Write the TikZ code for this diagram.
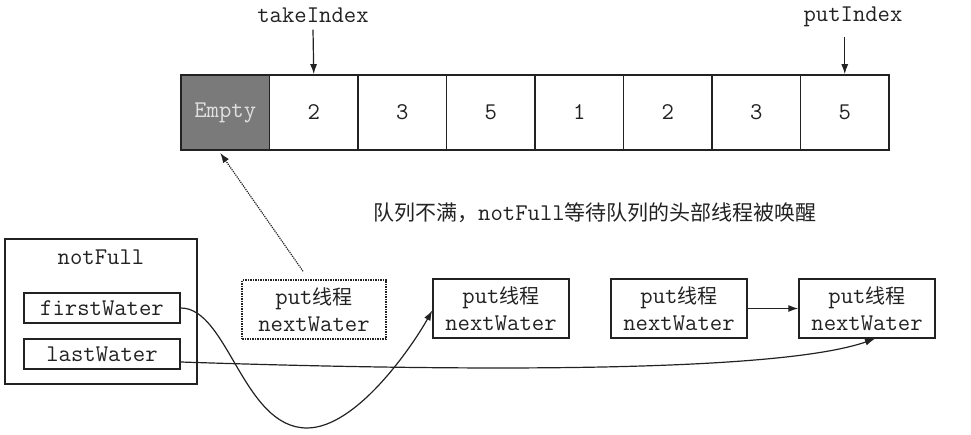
\documentclass[tikz,border=0pt]{standalone}
\usepackage{fontspec}
\newfontfamily\cjk{Noto Sans CJK SC}
\usetikzlibrary{arrows.meta,calc}
\definecolor{emptyfill}{HTML}{7A7A7A}
\definecolor{emptytext}{HTML}{E0E0E0}
\definecolor{ink}{HTML}{222222}
\tikzset{
  txt/.style={font=\ttfamily\fontsize{24}{27}\selectfont, text=ink, inner sep=0pt},
  cell/.style={draw=ink, line width=1.7pt, minimum width=88.5pt, minimum height=75pt, inner sep=0pt, txt},
  box/.style={draw=ink, line width=1.5pt, inner sep=0pt, txt, align=center},
  arr/.style={draw=ink, line width=1.2pt, -{Latex[length=10pt,width=7pt]}},
  dotarr/.style={arr, densely dotted}
}
\newcommand{\putlabel}{put{\cjk\fontsize{20}{27}\selectfont 线程}\\nextWater}
\begin{document}
\begin{tikzpicture}[x=1pt,y=-1pt]
\useasboundingbox (0,0) rectangle (971,435);
% array
\node[cell, fill=emptyfill, text=emptytext] (c0) at (225.25,112.5) {Empty};
\node[cell] (c1) at (313.75,112.5) {2};
\node[cell] (c2) at (402.25,112.5) {3};
\node[cell] (c3) at (490.75,112.5) {5};
\node[cell] (c4) at (579.25,112.5) {1};
\node[cell] (c5) at (667.75,112.5) {2};
\node[cell] (c6) at (756.25,112.5) {3};
\node[cell] (c7) at (844.75,112.5) {5};
% index labels
\node[txt] (ti) at (313,15) {takeIndex};
\node[txt] (pi) at (853,17) {putIndex};
\draw[arr] ($(ti.south)+(0,7)$) -- (c1.north);
\draw[arr] (c7.north |- 0,37) coordinate (pitop) -- (c7.north);
% message
\node[txt] (msg) at (595,213) {{\cjk\fontsize{21}{24}\selectfont 队列不满，}notFull{\cjk\fontsize{21}{24}\selectfont 等待队列的头部线程被唤醒}};
% notFull
\node[box, minimum width=192pt, minimum height=145pt] (nf) at (101,311.5) {};
\node[txt] (nfl) at (101,257) {notFull};
\node[box, minimum width=156pt, minimum height=30pt] (fw) at (102,308) {firstWater};
\node[box, minimum width=156pt, minimum height=30pt] (lw) at (102,354) {lastWater};
% threads
\node[box, densely dotted, minimum width=144pt, minimum height=59pt] (d) at (314,309.5) {\putlabel};
\node[box, minimum width=136pt, minimum height=59pt] (b2) at (501,308.5) {\putlabel};
\node[box, minimum width=136pt, minimum height=59pt] (b3) at (679,308.5) {\putlabel};
\node[box, minimum width=136pt, minimum height=59pt] (b4) at (867,308.5) {\putlabel};
% connectors
\draw[dotarr] ([xshift=-11pt,yshift=8pt]d.north) -- ([xshift=-5pt,yshift=-2pt]c0.south);
\draw[arr] (b3.east) -- (b4.west);
\draw[arr] (fw.east) .. controls (228,308) and (243,428) .. (307,428)
  .. controls (357,428) and (413,345) .. ([yshift=-2pt]b2.west);
\draw[arr] ([yshift=-8pt]lw.east) .. controls (480,372) and (780,372) .. ([xshift=8pt]b4.south);
\end{tikzpicture}
\end{document}
